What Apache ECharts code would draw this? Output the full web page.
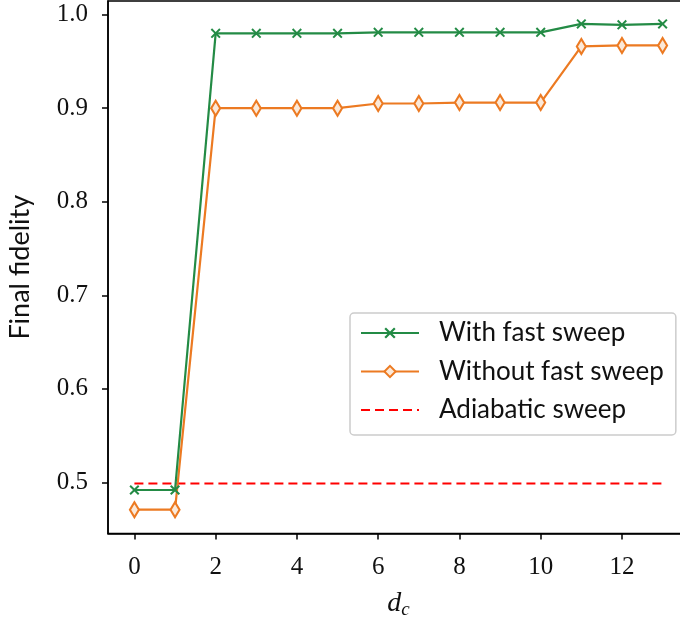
<!DOCTYPE html>
<html>
<head>
<meta charset="utf-8">
<script src="https://cdn.jsdelivr.net/npm/echarts@6/dist/echarts.min.js"></script>
<style>
  html, body { margin: 0; padding: 0; background: #fff; }
  #chart { width: 680px; height: 621px; }
</style>
</head>
<body>
<div id="chart"></div>
<script>
// Final fidelity versus d_c
const dcValues = [0, 1, 2, 3, 4, 5, 6, 7, 8, 9, 10, 11, 12, 13];
const withFastSweep = [0.492, 0.492, 0.980, 0.980, 0.980, 0.980, 0.981, 0.981, 0.981, 0.981, 0.981, 0.990, 0.989, 0.990];
const withoutFastSweep = [0.471, 0.471, 0.900, 0.900, 0.900, 0.900, 0.905, 0.905, 0.906, 0.906, 0.906, 0.966, 0.967, 0.967];
const adiabaticSweep = 0.499;
const xTicks = [0, 2, 4, 6, 8, 10, 12];
const yTicks = [0.5, 0.6, 0.7, 0.8, 0.9, 1.0];
const seriesNames = ['With fast sweep', 'Without fast sweep', 'Adiabatic sweep'];

const GREEN = '#238b45';
const ORANGE = '#ec7a22';
const RED = '#ff0000';

const xMark = 'path://M0,1.4L1.4,0L5,3.6L8.6,0L10,1.4L6.4,5L10,8.6L8.6,10L5,6.4L1.4,10L0,8.6L3.6,5Z';
const thinDiamond = 'path://M5,0L9,10L5,20L1,10Z';

const pairs = (ys) => dcValues.map((x, i) => [x, ys[i]]);

const chart = echarts.init(document.getElementById('chart'));
chart.setOption({
  animation: false,
  backgroundColor: '#fff',
  grid: {
    left: 108, top: 1, width: 581, height: 532.5,
    outerBoundsMode: 'none',
    show: true, borderColor: '#000', borderWidth: 1.5,
    containLabel: false
  },
  xAxis: {
    type: 'value',
    min: -0.65, max: 13.65,
    name: '{d|d}{c|c}',
    nameLocation: 'middle',
    nameGap: 55,
    nameTextStyle: {
      rich: {
        d: { fontFamily: 'Liberation Serif', fontStyle: 'italic', fontSize: 28, color: '#111' },
        c: { fontFamily: 'Liberation Serif', fontStyle: 'italic', fontSize: 19, color: '#111', verticalAlign: 'bottom', padding: [12, 0, 0, 0] }
      }
    },
    axisLine: { show: true, onZero: false, lineStyle: { color: '#000', width: 1.5 } },
    axisTick: { show: true, inside: false, length: 6, lineStyle: { color: '#000', width: 1.5 }, customValues: xTicks },
    axisLabel: { customValues: xTicks, fontFamily: 'Liberation Serif', fontSize: 25, color: '#111', margin: 21 },
    splitLine: { show: false }
  },
  yAxis: {
    type: 'value',
    min: 0.4455, max: 1.0145,
    name: 'Final fidelity',
    nameLocation: 'middle',
    nameGap: 74,
    nameTextStyle: { fontFamily: 'Lato', fontSize: 27, color: '#111' },
    axisLine: { show: true, onZero: false, lineStyle: { color: '#000', width: 1.5 } },
    axisTick: { show: true, inside: false, length: 6, lineStyle: { color: '#000', width: 1.5 }, customValues: yTicks },
    axisLabel: { customValues: yTicks, fontFamily: 'Liberation Serif', fontSize: 25, color: '#111', margin: 20,
      formatter: (v) => v.toFixed(1) },
    splitLine: { show: false }
  },
  legend: {
    orient: 'vertical',
    left: 350, top: 313,
    padding: [7, 12, 12, 10],
    itemGap: 12.5,
    itemWidth: 58, itemHeight: 14,
    backgroundColor: 'rgba(255,255,255,0.8)',
    borderColor: '#cccccc', borderWidth: 1.5, borderRadius: 4,
    textStyle: { fontFamily: 'Lato', fontSize: 26, lineHeight: 26, color: '#111', padding: [0, 0, 0, 15] },
    data: [
      { name: seriesNames[0] },
      { name: seriesNames[1] },
      { name: seriesNames[2], itemStyle: { opacity: 0 } }
    ]
  },
  series: [
    {
      name: seriesNames[0], type: 'line',
      data: pairs(withFastSweep),
      symbol: xMark, symbolSize: 10,
      itemStyle: { color: GREEN },
      lineStyle: { color: GREEN, width: 2.2 },
      z: 3
    },
    {
      name: seriesNames[1], type: 'line',
      data: pairs(withoutFastSweep),
      symbol: thinDiamond, symbolSize: [9, 15],
      itemStyle: { color: '#fbe9d9', borderColor: ORANGE, borderWidth: 2.2 },
      lineStyle: { color: ORANGE, width: 2.2 },
      z: 2
    },
    {
      name: seriesNames[2], type: 'line',
      data: [[dcValues[0], adiabaticSweep], [dcValues[dcValues.length - 1], adiabaticSweep]],
      showSymbol: false, symbol: 'none',
      itemStyle: { color: RED },
      lineStyle: { color: RED, width: 2, type: [9, 5] },
      z: 1
    }
  ]
});
</script>
</body>
</html>
